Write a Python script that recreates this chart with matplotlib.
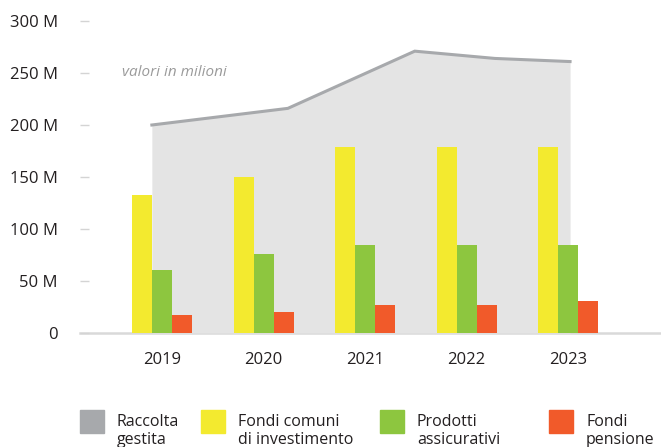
import matplotlib.pyplot as plt
import matplotlib.patches as mpatches
import numpy as np

plt.rcParams['font.family'] = ['Open Sans', 'DejaVu Sans']

# dati (milioni di euro)
anni = ['2019', '2020', '2021', '2022', '2023']
fondi_comuni = [133, 150, 179, 179, 179]
prodotti_assic = [61, 76, 85, 85, 85]
fondi_pensione = [17, 20, 27, 27, 31]

# raccolta gestita: area di sfondo (posizioni in unita' di categoria)
raccolta_x = [-0.10, 1.24, 2.49, 3.28, 4.02]
raccolta = [200, 216, 271, 264, 261]

col_grigio = '#a7a9ac'
col_area = '#e4e4e4'
col_giallo = '#f3ea2f'
col_verde = '#8dc63f'
col_rosso = '#f15a2a'
col_testo = '#231f20'

W, H = 661, 447
fig = plt.figure(figsize=(W / 100, H / 100), dpi=100)
ax = fig.add_axes([80 / W, (H - 333) / H, 581 / W, 312 / H])

x = np.arange(len(anni))
w = 0.197

ax.fill_between(raccolta_x, raccolta, 0, color=col_area, lw=0, zorder=1)
ax.plot(raccolta_x, raccolta, color=col_grigio, lw=2.2, zorder=2,
        solid_joinstyle='miter')

ax.bar(x - w, fondi_comuni, w, color=col_giallo, zorder=3)
ax.bar(x, prodotti_assic, w, color=col_verde, zorder=3)
ax.bar(x + w, fondi_pensione, w, color=col_rosso, zorder=3)

ax.set_xlim(-0.808, 4.916)
ax.set_ylim(0, 300)

ax.set_yticks([0, 50, 100, 150, 200, 250, 300])
ax.set_yticklabels(['0', '50 M', '100 M', '150 M', '200 M', '250 M', '300 M'])
ax.set_xticks(x)
ax.set_xticklabels(anni)

ax.tick_params(axis='y', direction='in', length=6.5, width=1, color='#d4d4d4',
               pad=16, labelsize=12, labelcolor=col_testo)
ax.tick_params(axis='x', length=0, pad=14, labelsize=12, labelcolor=col_testo)

for s in ['top', 'right', 'left']:
    ax.spines[s].set_visible(False)
ax.spines['bottom'].set_color('#d9d9d9')
ax.spines['bottom'].set_linewidth(1.8)
ax.spines['bottom'].set_zorder(0)

ax.text(-0.39, 250, 'valori in milioni', style='italic', color='#9b9b9b',
        fontsize=11, va='center', ha='left')

# legenda
voci = ['Raccolta\ngestita', 'Fondi comuni\ndi investimento',
        'Prodotti\nassicurativi', 'Fondi\npensione']
colori = [col_grigio, col_giallo, col_verde, col_rosso]
leg_x = [80, 201, 380, 549]
for lx, voce, c in zip(leg_x, voci, colori):
    fig.patches.append(mpatches.Rectangle((lx / W, (H - 433) / H), 24 / W, 23 / H,
                                          transform=fig.transFigure, color=c))
    fig.text((lx + 37) / W, (H - 414) / H, voce, fontsize=11.5, color=col_testo,
             va='top', ha='left', linespacing=1.15)

fig.savefig('out.png', dpi=100)
